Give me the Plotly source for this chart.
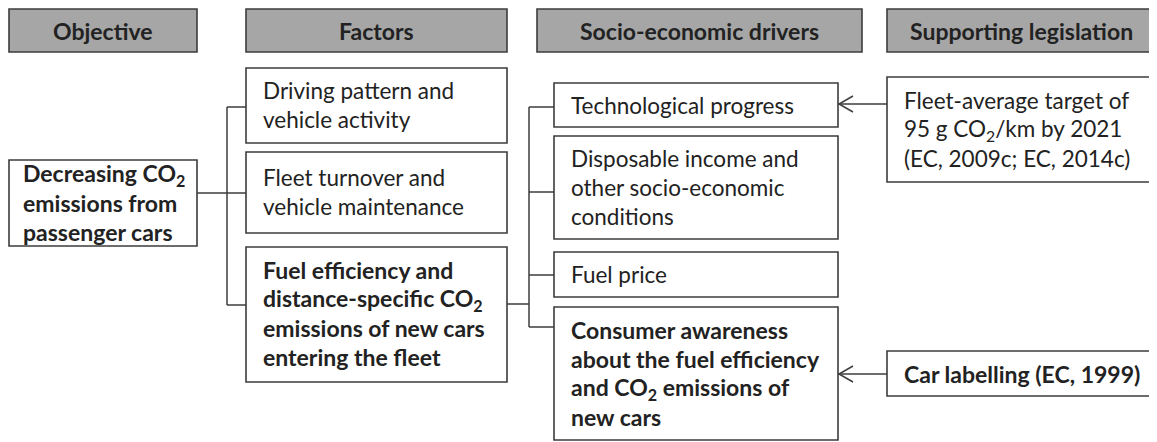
import plotly.graph_objects as go

# column headers
headers = ["Objective", "Factors", "Socio-economic drivers", "Supporting legislation"]

# box texts (one list of lines per box), bold flag
objective = ["Decreasing CO<sub>2</sub>", "emissions from", "passenger cars"]
factors = [
    ["Driving pattern and", "vehicle activity"],
    ["Fleet turnover and", "vehicle maintenance"],
    ["Fuel efficiency and", "distance-specific CO<sub>2</sub>", "emissions of new cars", "entering the fleet"],
]
factors_bold = [False, False, True]
drivers = [
    ["Technological progress"],
    ["Disposable income and", "other socio-economic", "conditions"],
    ["Fuel price"],
    ["Consumer awareness", "about the fuel efficiency", "and CO<sub>2</sub> emissions of", "new cars"],
]
drivers_bold = [False, False, False, True]
legislation = [
    ["Fleet-average target of", "95 g CO<sub>2</sub>/km by 2021", "(EC, 2009c; EC, 2014c)"],
    ["Car labelling (EC, 1999)"],
]
legislation_bold = [False, True]

W, H = 1157, 442
OFF = 8  # page body margin
EDGE = "#3c3c3c"
TXT = "#222222"
FONT = "Lato"
FS = 22.5
FSB = 23
LH = 29

fig = go.Figure()
shapes = []
ann = []


def box(x0, y0, x1, y1, fill="white"):
    shapes.append(dict(type="rect", x0=x0, y0=y0, x1=x1, y1=y1, fillcolor=fill,
                       line=dict(color=EDGE, width=1.6), layer="below"))


def line(x0, y0, x1, y1):
    shapes.append(dict(type="line", x0=x0, y0=y0, x1=x1, y1=y1,
                       line=dict(color=EDGE, width=1.5)))


def text_lines(lines, x, cy, bold=False):
    n = len(lines)
    for i, t in enumerate(lines):
        y = cy + (i - (n - 1) / 2) * LH
        ann.append(dict(x=x, y=y, text=f"<b>{t}</b>" if bold else t, showarrow=False,
                        xanchor="left", yanchor="middle",
                        font=dict(family=FONT, size=FSB if bold else FS, color=TXT)))


def arrow(x_from, x_to, y):
    line(x_from, y, x_to, y)
    shapes.append(dict(type="path", path=f"M {x_to+15} {y-8} L {x_to+1} {y} L {x_to+15} {y+8}",
                       line=dict(color=EDGE, width=1.5)))


# headers
hdr_x = [(9, 197), (246, 507), (537, 862), (887, 1155)]
for (x0, x1), t in zip(hdr_x, headers):
    box(x0, 9, x1, 52, fill="#a6a6a6")
    ann.append(dict(x=(x0 + x1) / 2, y=30.5, text=f"<b>{t}</b>", showarrow=False,
                    xanchor="center", yanchor="middle",
                    font=dict(family=FONT, size=FSB, color=TXT)))

# objective
box(9, 160, 197, 246)
text_lines(objective, 21, 203, bold=True)

# factors
f_y = [(68, 143), (152, 233), (247, 382)]
for (y0, y1), lines, b in zip(f_y, factors, factors_bold):
    box(246, y0, 507, y1)
    text_lines(lines, 261, (y0 + y1) / 2 - 1, bold=b)

# drivers
d_y = [(83, 127), (136, 239), (252, 297), (307, 440)]
for (y0, y1), lines, b in zip(d_y, drivers, drivers_bold):
    box(554, y0, 838, y1)
    text_lines(lines, 569, (y0 + y1) / 2, bold=b)

# legislation
l_y = [(77, 182), (351, 396)]
for (y0, y1), lines, b in zip(l_y, legislation, legislation_bold):
    box(887, y0, 1160, y1)
    text_lines(lines, 902, (y0 + y1) / 2, bold=b)

# connectors: objective -> factors
line(197, 193, 246, 193)
line(227, 107, 227, 305)
line(227, 107, 246, 107)
line(227, 305, 246, 305)

# connectors: fuel efficiency -> drivers
line(507, 304, 529, 304)
line(529, 107, 529, 327)
for y in (107, 192, 275, 327):
    line(529, y, 554, y)

# legislation arrows
arrow(887, 838, 104)
arrow(887, 838, 374)

fig.update_layout(
    width=W - OFF, height=H - OFF, margin=dict(l=0, r=0, t=0, b=0),
    paper_bgcolor="white", plot_bgcolor="white",
    xaxis=dict(range=[OFF, W], visible=False, fixedrange=True),
    yaxis=dict(range=[H, OFF], visible=False, fixedrange=True),
    shapes=shapes, annotations=ann, showlegend=False,
)
fig.write_html("out.html")
